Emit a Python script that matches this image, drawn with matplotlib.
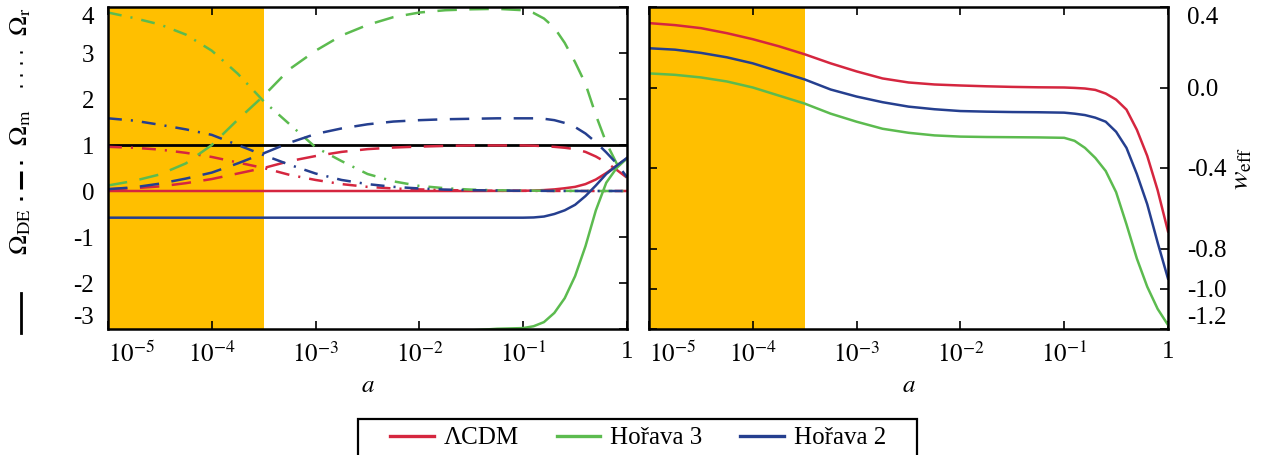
import numpy as np
import matplotlib
matplotlib.use("Agg")
import matplotlib.pyplot as plt
from matplotlib.lines import Line2D
from matplotlib.patches import Rectangle

plt.rcParams["font.family"] = "serif"
plt.rcParams["font.serif"] = ["Liberation Serif", "DejaVu Serif"]
plt.rcParams["mathtext.fontset"] = "stix"
plt.rcParams["axes.unicode_minus"] = False
plt.rcParams["lines.scale_dashes"] = False

# ============================== Data

LOG_A = [-5, -4.75, -4.5, -4.25, -4, -3.75, -3.5, -3.25, -3, -2.75, -2.5, -2.25,
         -2, -1.75, -1.5, -1.25, -1, -0.9, -0.8, -0.7, -0.6, -0.5, -0.4, -0.3,
         -0.2, -0.1, 0]

# Omega_DE (solid)
DE_LCDM = [0] * 15 + [0.002, 0.005, 0.01, 0.02, 0.035, 0.06, 0.09, 0.15, 0.25,
                      0.39, 0.55, 0.71]
DE_H2 = [-0.58] * 17 + [-0.575, -0.555, -0.5, -0.42, -0.3, -0.11, 0.12, 0.37,
                        0.55, 0.72]
DE_H3 = [-3.03] * 15 + [-2.995, -2.98, -2.94, -2.85, -2.65, -2.33, -1.85,
                        -1.2, -0.42, 0.18, 0.5, 0.71]

# Omega_m (dashed)
M_LCDM = [0.04, 0.06, 0.10, 0.17, 0.26, 0.38, 0.50, 0.65, 0.76, 0.85, 0.91, 0.945,
          0.965, 0.98, 0.99, 0.99, 0.99, 0.985, 0.975, 0.96, 0.94, 0.91, 0.85, 0.75,
          0.62, 0.46, 0.29]
M_H2 = [0.04, 0.08, 0.16, 0.27, 0.40, 0.60, 0.82, 1.05, 1.24, 1.36, 1.45, 1.51,
        1.54, 1.56, 1.57, 1.58, 1.58, 1.58, 1.57, 1.54, 1.48, 1.39, 1.25, 1.06,
        0.84, 0.60, 0.30]
M_H3 = [0.12, 0.22, 0.36, 0.60, 1.00, 1.55, 2.07, 2.65, 3.05, 3.38, 3.61, 3.78,
        3.88, 3.93, 3.95, 3.96, 3.93, 3.87, 3.75, 3.55, 3.22, 2.80, 2.33, 1.65,
        1.05, 0.60, 0.30]

# Omega_r (dash-dot)
R_LCDM = [0.96, 0.94, 0.90, 0.83, 0.74, 0.62, 0.50, 0.35, 0.24, 0.15, 0.09, 0.055,
          0.035, 0.02, 0.01, 0.005, 0.003, 0.002, 0.002, 0.001, 0.001, 0.001, 0, 0,
          0, 0, 0]
R_H2 = [1.58, 1.53, 1.44, 1.34, 1.22, 1.00, 0.78, 0.57, 0.38, 0.24, 0.15, 0.09,
        0.055, 0.03, 0.018, 0.01, 0.005, 0.004, 0.003, 0.002, 0.001, 0, 0, 0, 0,
        0, 0]
R_H3 = [3.88, 3.76, 3.62, 3.40, 3.05, 2.55, 1.95, 1.45, 0.95, 0.65, 0.37, 0.21,
        0.11, 0.06, 0.03, 0.015, 0.01, 0.008, 0.006, 0.004, 0.003, 0.002, 0.001,
        0, 0, 0, 0]

# w_eff
W_LCDM = [0.32, 0.31, 0.295, 0.27, 0.24, 0.205, 0.165, 0.12, 0.08, 0.045, 0.025,
          0.015, 0.01, 0.006, 0.003, 0.001, 0.0, -0.002, -0.005, -0.012, -0.03,
          -0.06, -0.11, -0.21, -0.34, -0.51, -0.715]
W_H2 = [0.195, 0.188, 0.172, 0.15, 0.12, 0.08, 0.04, -0.01, -0.045, -0.073, -0.095,
        -0.108, -0.117, -0.12, -0.122, -0.123, -0.125, -0.13, -0.137, -0.15, -0.17,
        -0.22, -0.30, -0.43, -0.58, -0.77, -0.95]
W_H3 = [0.07, 0.063, 0.05, 0.03, 0.0, -0.04, -0.08, -0.13, -0.17, -0.205, -0.225,
        -0.238, -0.244, -0.246, -0.247, -0.248, -0.25, -0.265, -0.30, -0.35, -0.415,
        -0.52, -0.68, -0.85, -0.99, -1.10, -1.18]

A_EQ_BAND = 10 ** -3.5          # shaded early-universe band
MODELS = ["ΛCDM", "Hořava 3", "Hořava 2"]

XTICKS = [1e-5, 1e-4, 1e-3, 1e-2, 1e-1, 1]
XTICKLABELS = [r"$10^{-5}$", r"$10^{-4}$", r"$10^{-3}$", r"$10^{-2}$", r"$10^{-1}$", "1"]
YTICKS_L = [-3, -2, -1, 0, 1, 2, 3, 4]
YTICKS_R = [-1.2, -1.0, -0.8, -0.4, 0.0, 0.4]

# ============================== Style

RED = "#d5263f"
GREEN = "#5cbb4f"
BLUE = "#253f8f"
ORANGE = "#ffbf00"
LW = 1.8
DASHED = (0, (14, 9))
DASHDOT = (0, (10, 6.5, 1.5, 6.5))
FS = 18

W, H = 1273, 455
fig = plt.figure(figsize=(W / 100, H / 100), dpi=100)


def fx(px):
    return px / W


def fy(py):
    return 1 - py / H


ax1 = fig.add_axes([fx(108), fy(329), fx(627 - 108), (329 - 7) / H])
ax2 = fig.add_axes([fx(649), fy(329), fx(1168 - 649), (329 - 7) / H])

a = 10 ** np.array(LOG_A)

# ---------- left panel: density parameters
ax1.axvspan(1e-5, A_EQ_BAND, color=ORANGE, lw=0, zorder=0)
ax1.axhline(1, color="black", lw=2.0, zorder=1.5)
for de, m, r, c in [(DE_LCDM, M_LCDM, R_LCDM, RED),
                    (DE_H3, M_H3, R_H3, GREEN),
                    (DE_H2, M_H2, R_H2, BLUE)]:
    ax1.plot(a, de, color=c, lw=LW)
    ax1.plot(a, m, color=c, lw=LW, linestyle=DASHED)
    ax1.plot(a, r, color=c, lw=LW, linestyle=DASHDOT)
ax1.set_ylim(-3, 4)

# ---------- right panel: effective equation of state
ax2.axvspan(1e-5, A_EQ_BAND, color=ORANGE, lw=0, zorder=0)
for w, c in [(W_LCDM, RED), (W_H3, GREEN), (W_H2, BLUE)]:
    ax2.plot(a, w, color=c, lw=LW)
ax2.set_ylim(-1.2, 0.4)

for ax in (ax1, ax2):
    ax.set_xscale("log")
    ax.set_xlim(1e-5, 1)
    ax.set_xticks(XTICKS, XTICKLABELS, fontsize=FS)
    ax.minorticks_off()
    ax.tick_params(axis="x", which="both", direction="in", top=True, bottom=True,
                   length=6, width=1.2, pad=9)
    for s in ax.spines.values():
        s.set_linewidth(1.8)
    ax.set_xlabel(r"$a$", fontsize=FS, labelpad=6)
    ax.get_xticklabels()[0].set_horizontalalignment("left")

ax1.set_yticks(YTICKS_L, [f"{v:d}" for v in YTICKS_L], fontsize=FS)
ax1.tick_params(axis="y", direction="in", left=False, right=True, labelleft=True,
                length=6, width=1.2, pad=10)
ax2.set_yticks(YTICKS_R, [f"{v:.1f}" for v in YTICKS_R], fontsize=FS)
ax2.tick_params(axis="y", direction="in", left=True, right=True, labelleft=False,
                labelright=True, length=6, width=1.2, pad=14)

for ax in (ax1, ax2):
    lbls = ax.get_yticklabels()
    lbls[0].set_verticalalignment("bottom")
    lbls[-1].set_verticalalignment("top")

ax2.yaxis.set_label_position("right")
ax2.set_ylabel(r"$w_{\mathrm{eff}}$", fontsize=FS + 2, rotation=90, labelpad=2)

# ---------- composite y-label on the left (line-style key)
fig.add_artist(Line2D([fx(21), fx(21)], [fy(293), fy(333)], color="black", lw=2.0))
for y0, y1 in [(161, 164), (171, 189), (197, 200)]:
    fig.add_artist(Line2D([fx(21), fx(21)], [fy(y0), fy(y1)], color="black", lw=2.2,
                          solid_capstyle="butt"))
for yd in [52, 63, 75, 86]:
    fig.add_artist(Line2D([fx(21), fx(21)], [fy(yd - 1), fy(yd + 1)], color="black",
                          lw=2.0, solid_capstyle="butt"))
fig.text(fx(21), fy(232), r"$\Omega_{\mathrm{DE}}$", rotation=90, ha="center",
         va="center", fontsize=FS + 1)
fig.text(fx(21), fy(128), r"$\Omega_{\mathrm{m}}$", rotation=90, ha="center",
         va="center", fontsize=FS + 1)
fig.text(fx(21), fy(22), r"$\Omega_{\mathrm{r}}$", rotation=90, ha="center",
         va="center", fontsize=FS + 1)

# ---------- legend
handles = [Line2D([], [], color=c, lw=2.4) for c in (RED, GREEN, BLUE)]
fig.legend(handles, MODELS, loc="center", bbox_to_anchor=(fx(638), fy(438)),
           ncol=3, frameon=False, fontsize=FS, handlelength=1.75,
           handletextpad=0.4, columnspacing=1.5, borderaxespad=0)
fig.add_artist(Rectangle((fx(358), fy(470)), fx(917 - 358), (470 - 419) / H,
                         transform=fig.transFigure, fill=False, edgecolor="black",
                         lw=1.6))

fig.savefig("out.png", dpi=100)
